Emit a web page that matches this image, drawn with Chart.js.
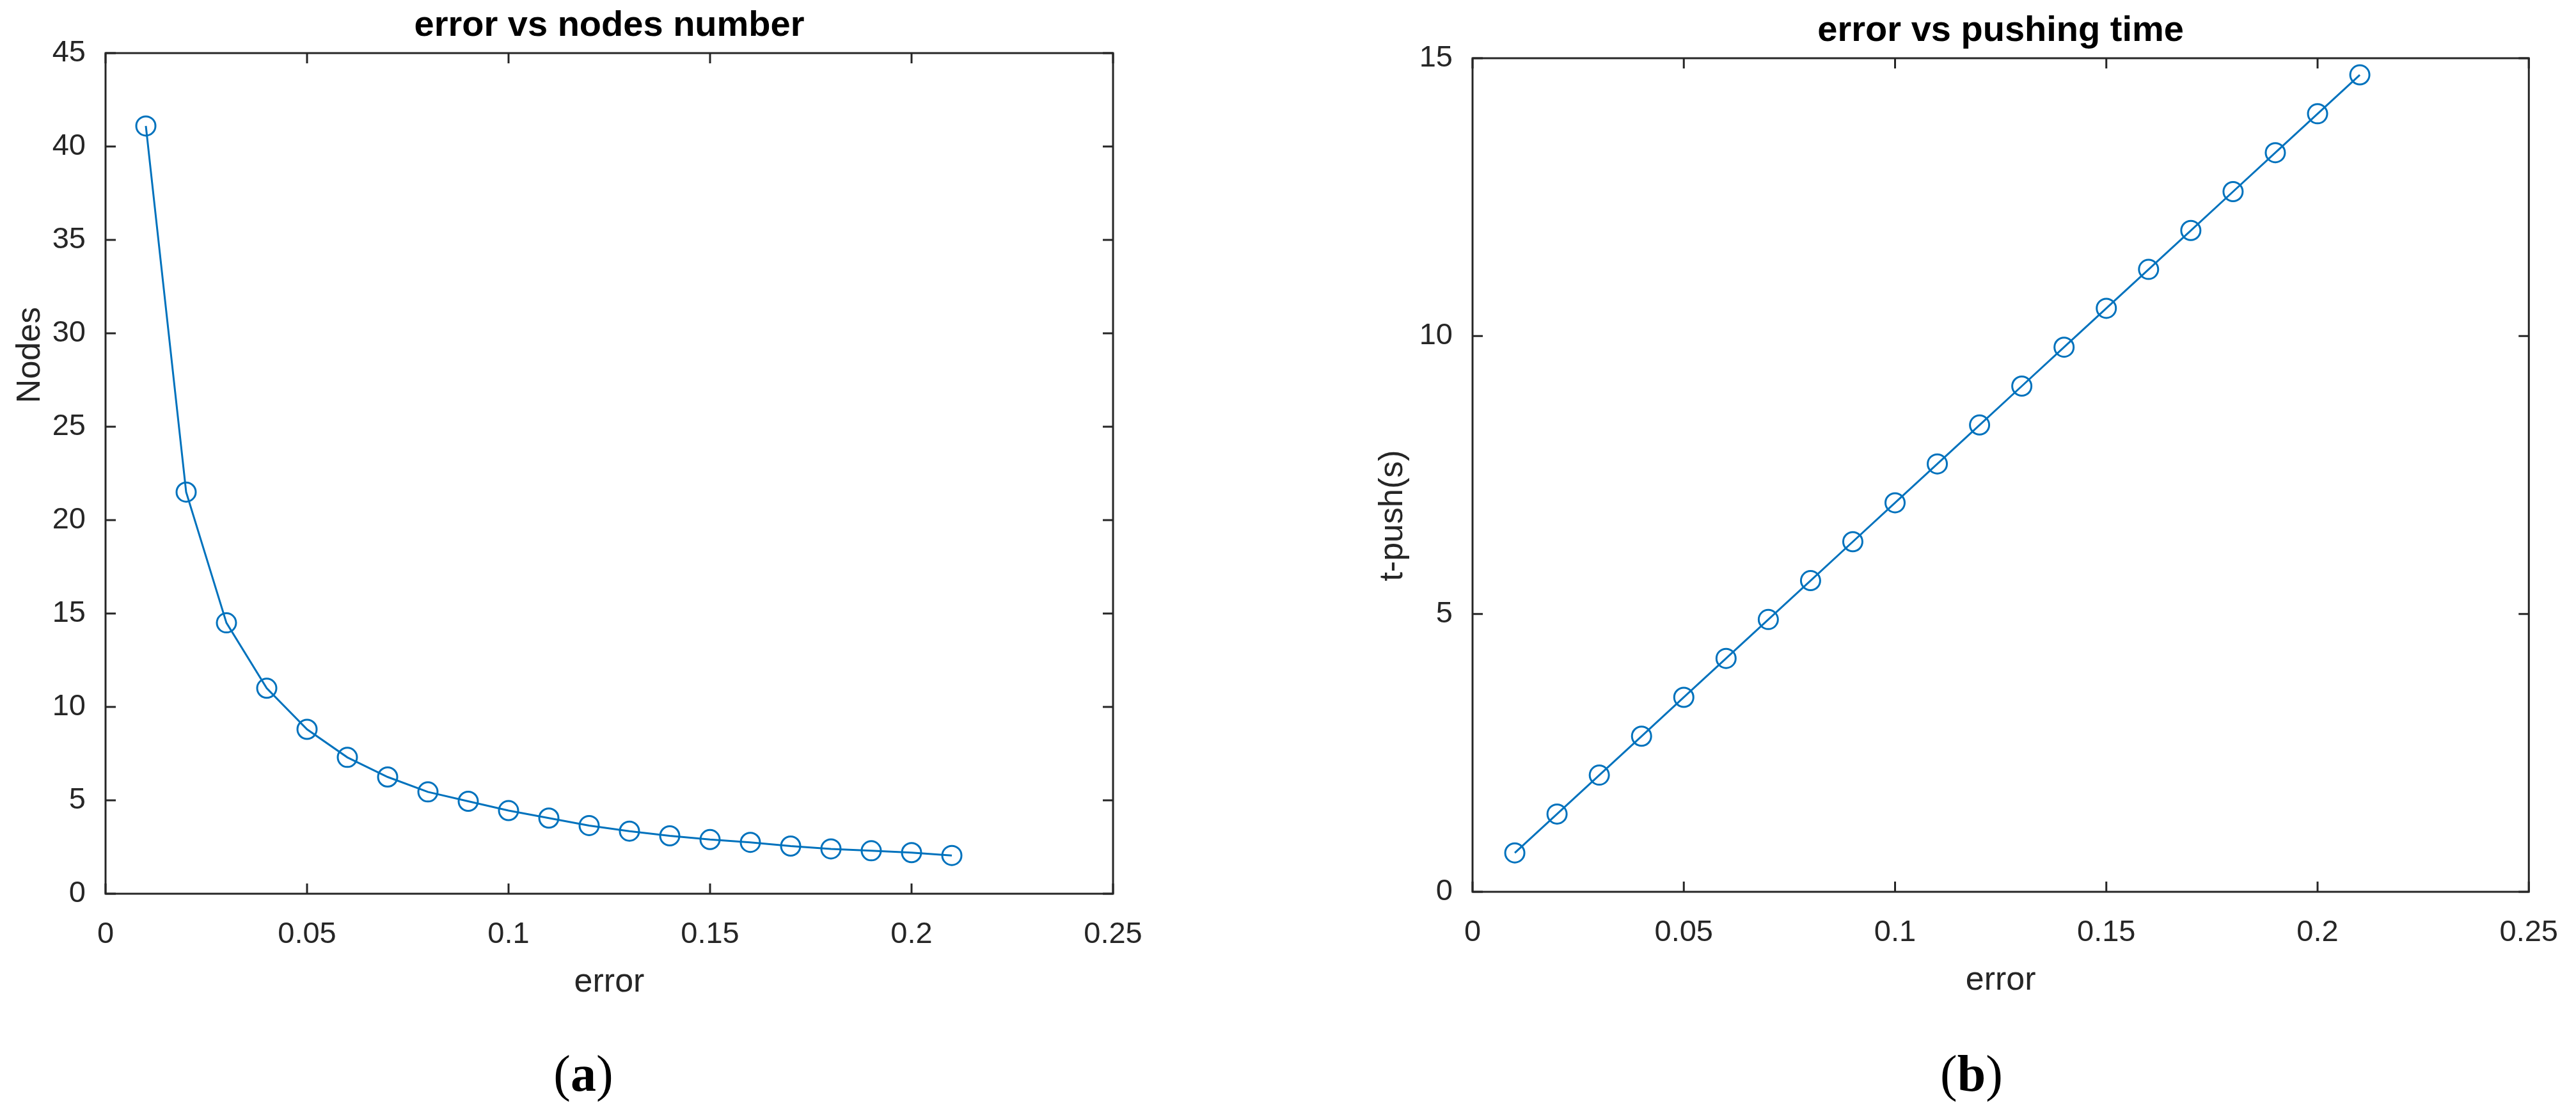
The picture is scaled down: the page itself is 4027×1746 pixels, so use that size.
<!DOCTYPE html>
<html>
<head>
<meta charset="utf-8">
<script src="https://cdn.jsdelivr.net/npm/chart.js@4.4.1/dist/chart.umd.min.js"></script>
<style>
  html, body { margin: 0; padding: 0; background: #fff; }
  body { width: 4027px; height: 1746px; position: relative; overflow: hidden; }
  .panel { position: absolute; top: 0; height: 1746px; }
  #left { left: 0; width: 2013px; }
  #right { left: 2013px; width: 2014px; }
</style>
</head>
<body>
<div class="panel" id="left"><canvas id="chartA"></canvas></div>
<div class="panel" id="right"><canvas id="chartB"></canvas></div>
<script>
// values
const errorValues = [0.01, 0.02, 0.03, 0.04, 0.05, 0.06, 0.07, 0.08, 0.09, 0.10, 0.11,
                     0.12, 0.13, 0.14, 0.15, 0.16, 0.17, 0.18, 0.19, 0.20, 0.21];
const nodes = [41.1, 21.5, 14.5, 11.0, 8.8, 7.3, 6.25, 5.45, 4.95, 4.45, 4.05,
               3.65, 3.35, 3.1, 2.9, 2.75, 2.55, 2.4, 2.3, 2.2, 2.05];
const pushTime = [0.7, 1.4, 2.1, 2.8, 3.5, 4.2, 4.9, 5.6, 6.3, 7.0, 7.7,
                  8.4, 9.1, 9.8, 10.5, 11.2, 11.9, 12.6, 13.3, 14.0, 14.7];
const xTickLabels = ["0", "0.05", "0.1", "0.15", "0.2", "0.25"];
const nodesTickLabels = ["0", "5", "10", "15", "20", "25", "30", "35", "40", "45"];
const pushTickLabels = ["0", "5", "10", "15"];

const blue = "#0072BD";
const axisColor = "#262626";
const sans = "'Liberation Sans', Arial, sans-serif";
const serif = "'Liberation Serif', 'Times New Roman', serif";

Chart.defaults.font.family = sans;
Chart.defaults.color = axisColor;

// box, inward ticks and the MATLAB style texts
const matlabFrame = {
  id: "matlabFrame",
  afterDraw(chart, args, opts) {
    const ctx = chart.ctx;
    const { left, right, top, bottom } = chart.chartArea;
    const xs = chart.scales.x, ys = chart.scales.y;
    ctx.save();
    ctx.strokeStyle = axisColor;
    ctx.lineWidth = 3;
    ctx.beginPath();
    xs.ticks.forEach(t => {
      const px = xs.getPixelForValue(t.value);
      ctx.moveTo(px, bottom); ctx.lineTo(px, bottom - 16);
      ctx.moveTo(px, top); ctx.lineTo(px, top + 16);
    });
    ys.ticks.forEach(t => {
      const py = ys.getPixelForValue(t.value);
      ctx.moveTo(left, py); ctx.lineTo(left + 16, py);
      ctx.moveTo(right, py); ctx.lineTo(right - 16, py);
    });
    ctx.stroke();
    ctx.strokeRect(left, top, right - left, bottom - top);

    const cx = (left + right) / 2;
    ctx.fillStyle = "#000";
    ctx.textAlign = "center";
    ctx.textBaseline = "alphabetic";
    ctx.font = "bold 56px " + sans;
    ctx.fillText(opts.title, cx, top - 27);

    ctx.fillStyle = axisColor;
    ctx.font = "52px " + sans;
    ctx.fillText(opts.xLabel, cx, bottom + 153);

    ctx.save();
    ctx.translate(opts.yLabelX, opts.yLabelY);
    ctx.rotate(-Math.PI / 2);
    ctx.textBaseline = "middle";
    ctx.fillText(opts.yLabel, 0, 0);
    ctx.restore();

    // panel letter: (a) with a bold letter
    ctx.fillStyle = "#000";
    ctx.textAlign = "left";
    const parts = [["(", "80px "], [opts.panel, "bold 80px "], [")", "80px "]];
    let w = 0;
    parts.forEach(p => { ctx.font = p[1] + serif; w += ctx.measureText(p[0]).width; });
    let x = opts.panelX - w / 2;
    parts.forEach(p => {
      ctx.font = p[1] + serif;
      ctx.fillText(p[0], x, 1705);
      x += ctx.measureText(p[0]).width;
    });
    ctx.restore();
  }
};

function makeChart(id, values, yMax, yLabels, frame, area) {
  const pts = errorValues.map((e, i) => ({ x: e, y: values[i] }));
  return new Chart(document.getElementById(id), {
    type: "line",
    data: {
      datasets: [{
        data: pts,
        borderColor: blue,
        borderWidth: 3,
        tension: 0,
        fill: false,
        pointStyle: "circle",
        pointRadius: 15,
        pointBorderWidth: 3,
        pointBackgroundColor: "rgba(0,0,0,0)",
        pointBorderColor: blue,
        clip: false
      }]
    },
    options: {
      responsive: true,
      maintainAspectRatio: false,
      animation: false,
      layout: { padding: { left: 0, top: area.top, right: area.padRight, bottom: 0 } },
      plugins: { legend: { display: false }, tooltip: { enabled: false }, matlabFrame: frame },
      scales: {
        x: {
          type: "linear",
          min: 0, max: 0.25,
          grid: { display: false },
          border: { display: false },
          ticks: {
            stepSize: 0.05,
            padding: 28,
            maxRotation: 0,
            font: { size: 47 },
            callback: (v, i) => xTickLabels[i]
          },
          afterFit: s => { s.height = area.xHeight; }
        },
        y: {
          type: "linear",
          min: 0, max: yMax,
          grid: { display: false },
          border: { display: false },
          ticks: {
            stepSize: 5,
            padding: 23,
            font: { size: 47 },
            callback: (v, i) => yLabels[i]
          },
          afterFit: s => { s.width = area.yWidth; }
        }
      }
    },
    plugins: [matlabFrame]
  });
}

makeChart("chartA", nodes, 45, nodesTickLabels,
  { title: "error vs nodes number", xLabel: "error", yLabel: "Nodes",
    yLabelX: 48, yLabelY: 555, panel: "a", panelX: 912 },
  { top: 83, padRight: 273, xHeight: 349, yWidth: 165 });

makeChart("chartB", pushTime, 15, pushTickLabels,
  { title: "error vs pushing time", xLabel: "error", yLabel: "t-push(s)",
    yLabelX: 165, yLabelY: 806, panel: "b", panelX: 1069 },
  { top: 91, padRight: 64, xHeight: 352, yWidth: 289 });
</script>
</body>
</html>
